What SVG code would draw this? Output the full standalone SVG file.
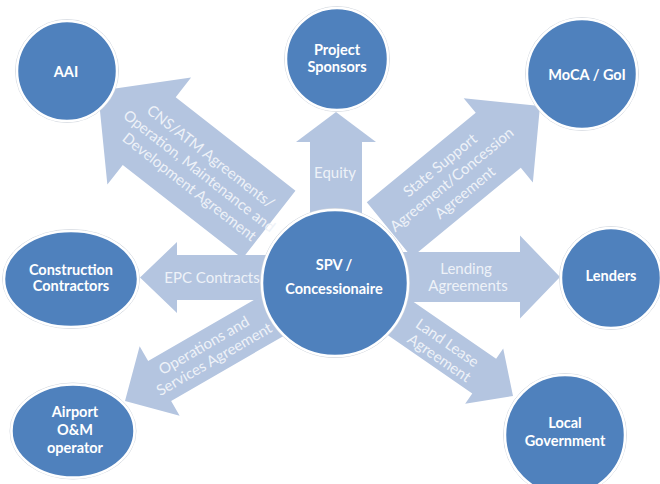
<svg xmlns="http://www.w3.org/2000/svg" width="660" height="484" viewBox="0 0 660 484">
  <style>
    .arrow { fill: #B4C5E0; }
    .alabel { font-family: Lato, "Liberation Sans", sans-serif; font-size: 15px; fill: #EEF2F8; text-anchor: middle; }
    .ring { fill: none; stroke: #D3D8DF; stroke-width: 1; }
    .node { fill: #4F81BD; stroke: #FFFFFF; stroke-width: 2.5; }
    .nlabel { font-family: Lato, "Liberation Sans", sans-serif; font-size: 14.5px; font-weight: bold; fill: #FFFFFF; text-anchor: middle; }
  </style>

  <rect width="660" height="484" fill="#FFFFFF"/>

  <!-- block arrows radiating from the SPV; each polygon has its tip at the local origin, pointing along +x -->
  <g id="connectors">
    <g id="arrow-aai">
      <polygon class="arrow" transform="translate(98,91) rotate(218)" points="0,0 -65,-68 -65,-43 -217,-43 -217,43 -65,43 -65,68"/>
    </g>
    <g id="arrow-moca">
      <polygon class="arrow" transform="translate(540,106) rotate(-39.4)" points="0,0 -54,-54.5 -54,-35.5 -195,-35.5 -195,35.5 -54,35.5 -54,54.5"/>
    </g>
    <g id="arrow-sponsors">
      <polygon class="arrow" transform="translate(336,112) rotate(-90)" points="0,0 -30,-40 -30,-26 -120,-26 -120,26 -30,26 -30,40"/>
    </g>
    <g id="arrow-epc">
      <polygon class="arrow" transform="translate(140,277.5) rotate(180)" points="0,0 -37,-35.5 -37,-22.5 -145,-22.5 -145,22.5 -37,22.5 -37,35.5"/>
    </g>
    <g id="arrow-lenders">
      <polygon class="arrow" transform="translate(560,277) rotate(0)" points="0,0 -40,-41.5 -40,-25 -175,-25 -175,25 -40,25 -40,41.5"/>
    </g>
    <g id="arrow-operator">
      <polygon class="arrow" transform="translate(125,401) rotate(150)" points="0,0 -40,-40 -40,-23 -190,-23 -190,23 -40,23 -40,40"/>
    </g>
    <g id="arrow-local">
      <polygon class="arrow" transform="translate(513,396) rotate(34.6)" points="0,0 -35,-33.5 -35,-21 -155,-21 -155,21 -35,21 -35,33.5"/>
    </g>

    <!-- arrow labels -->
    <text class="alabel" transform="translate(201,172) rotate(38)">
      <tspan x="0" y="-13">CNS/ATM Agreements/</tspan>
      <tspan x="0" y="5.5">Operation, Maintenance and</tspan>
      <tspan x="0" y="24">Development Agreement</tspan>
    </text>
    <text class="alabel" transform="translate(453,178) rotate(-39.4)">
      <tspan x="0" y="-13">State Support</tspan>
      <tspan x="0" y="5.5">Agreement/Concession</tspan>
      <tspan x="0" y="24">Agreement</tspan>
    </text>
    <text class="alabel" x="335" y="178">Equity</text>
    <text class="alabel" x="212" y="283">EPC Contracts</text>
    <text class="alabel">
      <tspan x="468" y="274">Lending</tspan>
      <tspan x="468" y="291">Agreements</tspan>
    </text>
    <text class="alabel" transform="translate(210,352) rotate(-30)">
      <tspan x="0" y="-3.5">Operations and</tspan>
      <tspan x="0" y="13.5">Services Agreement</tspan>
    </text>
    <text class="alabel" transform="translate(444,351) rotate(34.6)">
      <tspan x="0" y="-3.5">Land Lease</tspan>
      <tspan x="0" y="13.5">Agreement</tspan>
    </text>
  </g>

  <g id="node-aai">
    <circle class="ring" cx="67" cy="71" r="51.5"/>
    <circle class="node" cx="67" cy="71" r="50"/>
    <text class="nlabel" x="66" y="77">AAI</text>
  </g>

  <g id="node-sponsors">
    <circle class="ring" cx="337" cy="59" r="52.5"/>
    <circle class="node" cx="337" cy="59" r="51"/>
    <text class="nlabel"><tspan x="337" y="55">Project</tspan><tspan x="337" y="72">Sponsors</tspan></text>
  </g>

  <g id="node-moca">
    <circle class="ring" cx="582" cy="74" r="56.5"/>
    <circle class="node" cx="582" cy="74" r="55"/>
    <text class="nlabel" x="587" y="80">MoCA / GoI</text>
  </g>

  <g id="node-construction">
    <ellipse class="ring" cx="71" cy="279" rx="68.5" ry="49.5"/>
    <ellipse class="node" cx="71" cy="279" rx="67" ry="48"/>
    <text class="nlabel"><tspan x="71" y="275">Construction</tspan><tspan x="71" y="291">Contractors</tspan></text>
  </g>

  <g id="node-spv">
    <circle class="ring" cx="335" cy="283" r="74.5"/>
    <circle class="node" cx="335" cy="283" r="73"/>
    <text class="nlabel"><tspan x="334" y="270">SPV /</tspan><tspan x="334" y="294">Concessionaire</tspan></text>
  </g>

  <g id="node-lenders">
    <circle class="ring" cx="611" cy="278" r="51.5"/>
    <circle class="node" cx="611" cy="278" r="50"/>
    <text class="nlabel" x="611" y="281">Lenders</text>
  </g>

  <g id="node-operator">
    <ellipse class="ring" cx="73" cy="431" rx="63" ry="48"/>
    <ellipse class="node" cx="73" cy="431" rx="61.5" ry="46.5"/>
    <text class="nlabel"><tspan x="75" y="417">Airport</tspan><tspan x="75" y="435">O&amp;M</tspan><tspan x="75" y="453">operator</tspan></text>
  </g>

  <g id="node-local">
    <circle class="ring" cx="565" cy="435" r="61.5"/>
    <circle class="node" cx="565" cy="435" r="60"/>
    <text class="nlabel"><tspan x="565" y="428">Local</tspan><tspan x="565" y="446">Government</tspan></text>
  </g>
</svg>
